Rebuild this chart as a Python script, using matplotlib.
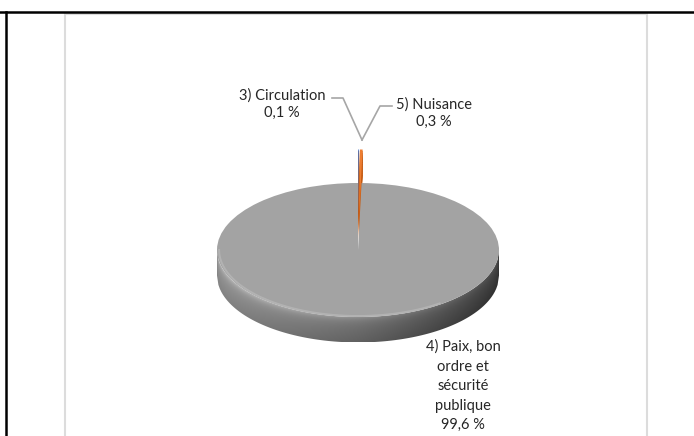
import numpy as np
import matplotlib
matplotlib.use("Agg")
import matplotlib.pyplot as plt
from matplotlib.lines import Line2D
from matplotlib.patches import Rectangle, Polygon

plt.rcParams['font.family'] = ['Lato', 'DejaVu Sans']

# data
categories = ["3) Circulation", "5) Nuisance", "4) Paix, bon\nordre et\nsécurité\npublique"]
values = [0.1, 0.3, 99.6]
value_labels = ["0,1 %", "0,3 %", "99,6 %"]
top_colors = ["#4472C4", "#ED7D31", "#A3A3A3"]
side_colors = ["#c55a11", "#c55a11", "none"]
explode = [0.5, 0.5, 0.0]

W, H = 694, 436
fig = plt.figure(figsize=(W / 100, H / 100), dpi=100)


def fx(px):
    return px / W


def fy(py):
    return 1 - py / H


# page frame (table borders) and chart area border
fig.add_artist(Line2D([0, 1], [fy(12), fy(12)], color="black", lw=1.8))
fig.add_artist(Line2D([fx(6), fx(6)], [fy(12), 0], color="black", lw=1.8))
fig.add_artist(Rectangle((fx(65), fy(440)), fx(647 - 65), fy(14) - fy(440),
                         fill=False, edgecolor="#dcdcdc", lw=1.5))

# pie axes: centre of top face at (358, 250) px, radii 141 x 67 px
cx, cy, rx, ry = 358, 250, 141, 67
x0, x1, y0, y1 = -1.1, 1.1, -1.6, 1.8
ax = fig.add_axes([fx(cx + x0 * rx), fy(cy - y0 * ry),
                   fx((x1 - x0) * rx), fy(0) - fy((y1 - y0) * ry)])
d = 0.38  # thickness of the disc in data units

# sides of the exploded small slices
for k in np.linspace(d, 0.02, 14):
    ax.pie(values, colors=side_colors, explode=explode, startangle=90,
           counterclock=False, center=(0, -k),
           wedgeprops=dict(linewidth=0))

# side of the main disc, shaded with a gradient
xs = np.linspace(-1, 1, 200)
upper = -np.sqrt(1 - xs ** 2)
outline = np.concatenate([np.c_[xs, upper], np.c_[xs[::-1], upper[::-1] - d]])
side = Polygon(outline, closed=True, facecolor="none", edgecolor="none")
ax.add_patch(side)
gx = np.linspace(-1, 1, 300)
gy = np.linspace(0, -1 - d, 300)
GX, GY = np.meshgrid(gx, gy)
base = 0.60 - 0.14 * (GX + 1) - 0.05 * np.clip(GX, 0, 1)
rel = (-np.sqrt(np.clip(1 - GX ** 2, 0, 1)) - GY) / d
shade = (base + 0.20 * np.exp(-np.clip(rel, 0, None) / 0.15) * (1 - 0.35 * (GX + 1))
         - 0.08 * rel)
shade = np.clip(shade, 0, 1)
img = ax.imshow(np.dstack([shade] * 3), extent=(-1, 1, -1 - d, 0), origin="upper",
                aspect="auto", zorder=1)
img.set_clip_path(side)

# top face
wedges, _ = ax.pie(values, colors=top_colors, explode=explode, startangle=90,
                   counterclock=False, wedgeprops=dict(linewidth=0))
for w in wedges:
    w.set_zorder(3)

# soft bevel along the front rim
t = np.linspace(np.pi * 1.0, np.pi * 1.7, 100)
ax.plot(0.985 * np.cos(t), 0.985 * np.sin(t), color="#bdbdbd", lw=1.4, alpha=0.6, zorder=4)

ax.set_aspect("auto")
ax.set_xlim(x0, x1)
ax.set_ylim(y0, y1)
ax.axis("off")

# data labels with leader lines
txt = dict(fontsize=10.5, color="#262626", ha="center", va="center", linespacing=1.35)
fig.text(fx(282), fy(104), categories[0] + "\n" + value_labels[0], **txt)
fig.text(fx(434), fy(113), categories[1] + "\n" + value_labels[1], **txt)
txt["linespacing"] = 1.5
fig.text(fx(463), fy(386), categories[2] + "\n" + value_labels[2], **txt)

lead = dict(color="#a6a6a6", lw=1.2)
fig.add_artist(Line2D([fx(332), fx(343), fx(362)], [fy(98), fy(98), fy(140)], **lead))
fig.add_artist(Line2D([fx(362), fx(380), fx(392)], [fy(140), fy(106), fy(106)], **lead))

fig.savefig("out.png", dpi=100)
